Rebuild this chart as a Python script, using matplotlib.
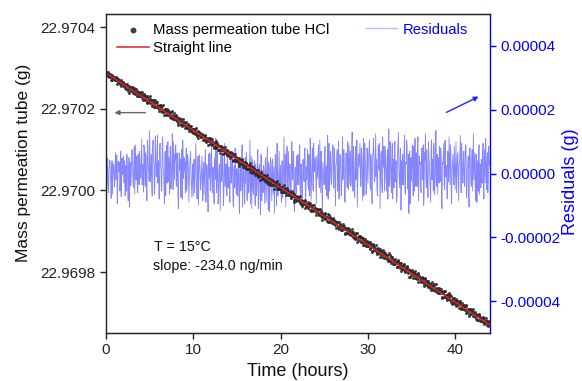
import numpy as np
import matplotlib
matplotlib.use("Agg")
import matplotlib.pyplot as plt

plt.rcParams['font.family'] = ['Liberation Sans', 'DejaVu Sans']

# Fit line parameters
intercept_g = 22.970288          # mass at t = 0 (g)
slope_ng_per_min = -234.0        # ng/min
hours_span = [0.0, 44.0]

# Residuals in units of 1e-7 g, sampled every 0.1 h (rows = hours)
residuals_a_e7 = [
    12, -35, 48, -60, 22, 5, -78, 40, -15, 30,
    -42, 65, -10, -95, 38, 18, -55, 70, -25, 8,
    55, -30, -70, 25, 60, -48, 15, -105, 35, -5,
    75, -20, 40, -65, 90, 10, -50, 62, -35, 45,
    -15, 110, 28, -58, 80, -40, 52, -85, 95, 20,
    135, -25, 60, -70, 105, 30, -45, 85, -10, 120,
    40, -80, 95, 15, -55, 115, 5, -95, 70, 25,
    -30, 100, 50, -65, 85, -20, 125, -50, 35, 60,
    90, -40, 20, -110, 65, 45, -75, 30, 105, -15,
    10, -60, 80, -35, 50, -90, 25, 70, -45, 15,
    -70, 45, -20, 95, -55, 30, -100, 60, 5, -30,
    55, -85, 35, -10, 75, -50, 20, -120, 40, 65,
    -25, 85, -60, 15, -95, 50, 110, -40, 25, -70,
    30, -115, 60, -20, 45, -75, 95, -35, 10, 55,
    -45, 20, -90, 70, -15, 40, -105, 25, 80, -55,
    15, -70, 50, -125, 35, -40, 90, -60, 5, -95,
    -30, 65, -85, 25, -50, 105, -20, -110, 45, -65,
    40, -100, 10, -45, 75, -80, 30, -130, 55, -25,
    -60, 20, -95, 50, -35, 85, -115, 15, -50, 35,
    -85, 45, -20, -125, 60, -40, 95, -70, 10, -55,
    25, -90, 40, -60, 115, -30, -105, 50, -15, 70,
    -45, 30, -80, 100, -20, 55, -120, 20, -65, 40,
    60, -35, 90, -75, 15, -110, 45, -25, 80, -55,
    -20, 75, -50, 25, 110, -85, 35, -40, 95, 5,
    50, -95, 20, 65, -30, 105, -60, 40, -115, 15,
    -35, 85, -10, -70, 120, 25, -55, 70, -25, 45,
    90, -45, 55, -100, 30, 75, -20, -80, 60, 10,
    -60, 115, 5, 45, -90, 65, -35, 100, -50, 25,
    70, -25, 130, -55, 40, -75, 85, 15, -105, 50,
    20, 95, -40, 60, -85, 110, -15, 45, -65, 80,
    -30, 55, 105, -50, 25, -95, 70, 35, -20, 125,
    45, -70, 90, 10, -110, 60, -35, 115, 20, -55,
    85, -15, 50, -80, 140, -30, 65, -60, 95, 5,
    -45, 100, 25, -90, 55, 130, -20, 75, -115, 40,
    60, -35, 120, -65, 30, 85, -50, -125, 70, 15,
    -25, 90, -70, 45, 110, -40, 20, 95, -85, 55,
    35, -60, 80, -20, -100, 65, 125, -45, 30, -75,
    50, -15, -90, 105, 20, -55, 75, -30, 135, -40,
    -65, 40, 85, -25, 60, -110, 30, 95, -50, 15,
    25, -80, 55, 115, -35, 70, -95, 40, -20, 85,
    -50, 100, -10, 65, -85, 30, 120, -60, 45, -30,
    70, -40, 90, -75, 15, 55, -105, 80, -20, 35,
    -55, 125, 20, -45, 60, -90, 40, 75, -65, 10,
    45, -30, 95, -80, 25, 110, -50, 65, -15, 40,
]

# Residuals in units of 1e-7 g, sampled every 0.1 h offset by 0.05 h
residuals_b_e7 = [
    -8, 25, -50, 15, 42, -22, 3, -65, 30, -12,
    20, -18, 58, -40, 5, 35, -28, -72, 48, -3,
    -25, 40, 10, -55, 22, -85, 50, 18, -38, 62,
    30, -45, 85, 12, -20, 55, -60, 28, 70, -10,
    48, -35, 20, 90, -15, 65, -50, 105, 15, -25,
    60, 10, -40, 78, 35, -65, 118, -5, 45, -30,
    -12, 72, 30, -45, 95, 20, -35, 60, -70, 88,
    55, -25, 15, 82, -48, 38, 5, 100, -20, 42,
    -35, 65, -60, 28, 10, -45, 75, -80, 35, 50,
    38, -20, -55, 60, 15, -30, 48, -12, -75, 30,
    25, -60, 40, -15, -80, 55, -25, 35, -50, 18,
    -30, 12, -65, 50, -90, 28, -42, 60, -15, -55,
    45, -35, 20, -70, 38, -18, -60, 70, -95, 22,
    -50, 40, -25, 65, -100, 15, -40, 30, -70, 48,
    20, -55, 35, -30, 60, -85, 12, -45, 28, -65,
    -40, 25, -80, 10, -55, 45, -105, 20, -35, 50,
    35, -75, 15, -60, 30, -95, 55, -25, -50, 20,
    -55, 30, -70, 45, -110, 18, -35, 60, -85, 10,
    25, -45, 40, -90, 15, -60, 35, -120, 50, -20,
    40, -65, 20, -35, 55, -100, 28, -50, 70, -30,
    -50, 35, -75, 20, -40, 60, -25, 85, -55, 15,
    30, -60, 45, -20, 70, -90, 10, -45, 55, -35,
    -25, 50, -55, 30, -85, 40, -15, 65, -100, 20,
    35, -40, 60, -70, 25, -20, 80, -55, 15, 45,
    -30, 55, -15, 90, -45, 20, 70, -65, 35, -10,
    60, -50, 25, 40, -80, 95, -20, 45, -35, 75,
    -15, 80, -40, 30, 60, -55, 100, -25, 50, -70,
    45, -20, 75, -85, 25, 55, -45, 35, 90, -30,
    -40, 65, 10, 85, -60, 30, -20, 105, -35, 60,
    55, -30, 80, -15, 40, -70, 95, 20, -45, 70,
    15, 85, -35, 60, -75, 45, 110, -25, 50, -10,
    -50, 40, 20, 95, -30, 70, -60, 35, 85, -20,
    30, -55, 75, 15, -40, 100, -15, 55, -80, 45,
    65, -25, 40, -65, 90, 10, -45, 80, 25, -35,
    -20, 70, -50, 35, 105, -30, 60, 15, -95, 50,
    45, -15, 85, -55, 20, 65, -40, 115, -25, 30,
    -35, 55, 15, 90, -60, 40, -10, 75, -45, 100,
    25, -50, 70, -20, 45, 95, -65, 30, -15, 60,
    50, -30, 20, 80, -85, 35, 65, -40, 105, -10,
    -45, 70, -25, 45, 90, -55, 15, 60, -35, 20,
    35, -60, 55, -15, 30, 80, -45, 95, -20, 50,
    -25, 45, 85, -50, 20, -70, 60, 25, -40, 75,
    40, -20, 65, -85, 35, 15, -55, 90, 30, -45,
    -15, 60, -40, 75, -30, 50, 20, -60, 85, 25,
]

left_ticks = [22.9698, 22.9700, 22.9702, 22.9704]
right_ticks = [-0.00004, -0.00002, 0.0, 0.00002, 0.00004]
x_ticks = [0, 10, 20, 30, 40]

# interleave the two residual series in time
res_a = np.array(residuals_a_e7) * 1e-7
res_b = np.array(residuals_b_e7) * 1e-7
t_a = np.arange(len(res_a)) / 10.0
t_b = t_a + 0.05
t = np.empty(len(t_a) * 2)
res = np.empty(len(t_a) * 2)
t[0::2], t[1::2] = t_a, t_b
res[0::2], res[1::2] = res_a, res_b

slope_g_per_h = slope_ng_per_min * 1e-9 * 60
fit = intercept_g + slope_g_per_h * t
mass = fit + res

fig = plt.figure(figsize=(5.82, 3.81), dpi=100)
ax = fig.add_axes([0.182, 0.126, 0.66, 0.837])
ax2 = ax.twinx()

ax2.plot(t, res, color='#2222ff', lw=0.6, alpha=0.55, label='Residuals')
ax2.set_ylim(-5e-5, 5e-5)
ax2.set_yticks(right_ticks)
ax2.set_yticklabels(['%.5f' % v for v in right_ticks])

ax.set_zorder(ax2.get_zorder() + 1)
ax.patch.set_visible(False)

ax.scatter(t, mass, s=4.5, color='#2a2a2a', marker='o', lw=0, alpha=0.9,
           label='Mass permeation tube HCl')
tl = np.array(hours_span)
ax.plot(tl, intercept_g + slope_g_per_h * tl, color='#e02020', lw=1.1, label='Straight line')

ax.set_xlim(0, 44)
ax.set_ylim(22.969651, 22.970432)
ax.set_xticks(x_ticks)
ax.set_yticks(left_ticks)
ax.set_yticklabels(['%.4f' % v for v in left_ticks])

ax.tick_params(axis='both', direction='out', length=4, width=1, labelsize=11, colors='#222222')
ax2.tick_params(axis='y', direction='out', length=4, width=1, labelsize=11, colors='#0000ff')
for s in ['left', 'bottom', 'top']:
    ax.spines[s].set_color('#222222')
    ax.spines[s].set_linewidth(1)
ax2.spines['right'].set_color('#0000ff')
ax2.spines['right'].set_linewidth(1)
ax2.spines['left'].set_visible(False)
ax.spines['right'].set_visible(False)

ax.set_xlabel('Time (hours)', fontsize=13, color='#111111', labelpad=4)
ax.set_ylabel('Mass permeation tube (g)', fontsize=12.5, color='#111111', va='center')
ax.yaxis.set_label_coords(-0.2135, 0.533)
ax2.set_ylabel('Residuals (g)', fontsize=13, color='#0000ff', va='center')
ax2.yaxis.set_label_coords(1.209, 0.473)

leg = ax.legend(loc='upper left', frameon=False, fontsize=10.7, markerscale=2.0,
                handlelength=2.1, handletextpad=0.3, borderaxespad=0.0, borderpad=0.3,
                labelspacing=0.3, bbox_to_anchor=(0.018, 0.987))
leg2 = ax2.legend(loc='upper right', frameon=False, fontsize=10.7, handlelength=2.1,
                  handletextpad=0.35, borderaxespad=0.0, borderpad=0.3,
                  bbox_to_anchor=(0.954, 0.987))
for txt in leg2.get_texts():
    txt.set_color('#0000ff')
for h in leg2.get_lines():
    h.set_alpha(0.3)
    h.set_linewidth(1)

ax.annotate('', xy=(0.015, 0.691), xytext=(0.11, 0.691), xycoords='axes fraction',
            arrowprops=dict(arrowstyle='-|>', color='#666666', lw=1.0, mutation_scale=7))
ax.annotate('', xy=(0.977, 0.745), xytext=(0.88, 0.688), xycoords='axes fraction',
            arrowprops=dict(arrowstyle='-|>', color='#2222ff', lw=1.0, mutation_scale=7))

ax.text(0.125, 0.257, 'T = 15°C', transform=ax.transAxes, fontsize=10.3, color='#111111')
ax.text(0.122, 0.197, 'slope: -234.0 ng/min', transform=ax.transAxes, fontsize=10.3, color='#111111')

fig.savefig('out.png', dpi=100)
